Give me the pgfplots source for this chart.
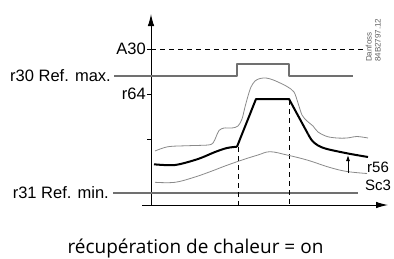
\documentclass[border=0pt]{standalone}
\usepackage{pgfplots}
\pgfplotsset{compat=1.18}
\usepackage{fontspec}
\setmainfont{Liberation Sans}
\newfontfamily\osfont{Open Sans}
\usetikzlibrary{arrows.meta}
\definecolor{refgray}{HTML}{707070}
\definecolor{thingray}{HTML}{8A8A8A}
\definecolor{txtgray}{HTML}{606060}
\begin{document}
\begin{tikzpicture}
\begin{axis}[
  width=394pt, height=258pt, scale only axis,
  xmin=0, xmax=394, ymin=0, ymax=258, y dir=reverse,
  axis lines=none, clip=false,
  every axis plot/.append style={line join=round},
]
% frame of the picture (invisible)
\path (axis cs:0,0) rectangle (axis cs:394,258);
% axes
\addplot[black, line width=1pt, -{Latex[length=12pt,width=6.5pt]}] coordinates {(151,205.5) (151,14)};
\addplot[black, line width=1pt, -{Latex[length=12pt,width=6.5pt]}] coordinates {(142,205) (388,205)};
% ticks
\addplot[black, line width=0.8pt] coordinates {(147,49) (151,49)};
\addplot[black, line width=0.8pt] coordinates {(147,94) (151,94)};
\addplot[black, line width=0.8pt] coordinates {(147,139) (151,139)};
% A30 dashed
\addplot[black, line width=0.9pt, dash pattern=on 5pt off 4pt] coordinates {(151,49) (363,49)};
% r30 ref max with step
\addplot[refgray, line width=1.4pt] coordinates {(114,76) (237,76) (237,64) (289,64) (289,76) (353,76)};
% r31 ref min
\addplot[refgray, line width=1.4pt] coordinates {(113,193) (358,193)};
% dashed verticals
\addplot[black, line width=0.9pt, dash pattern=on 5pt off 4pt] coordinates {(238,147) (238,205)};
\addplot[black, line width=0.9pt, dash pattern=on 5pt off 4pt] coordinates {(289,100) (289,205)};
% upper thin curve
\addplot[thingray, line width=0.8pt, smooth, tension=0.5] coordinates {
(155,151)(168,146.7)(188,145.7)(208,145)(213,143)(216,137)(219,130.5)(224,128)(232,128)(238,126)(242,119)(245,107)(248,96)(251,87)(255,81)(260,78.5)(266,78)(272,79.5)(278,82)(287,86.5)(294,92)(298,103)(302,115)(307,121)(313,126)(318,132)(327,136.5)(337,138)(347,138)(357,136.5)(368,138)};
% lower thin curve
\addplot[thingray, line width=0.8pt, smooth, tension=0.6] coordinates {
(155,182.3)(175,182.3)(195,177)(212,171)(225,166)(242,160)(258,155)(270,151.7)(287,155)(307,160)(330,167.5)(347,171.5)(367,173.5)};
% thick black curve
\addplot[black, line width=2pt, smooth, tension=0.5] coordinates {
(154,164.3)(175,165)(198,159)(215,152)(227,148)(237,146.7)};
\addplot[black, line width=2pt] coordinates {(237,146.7)(256,99)(289,99)(308,134)};
\addplot[black, line width=2pt, smooth, tension=0.5] coordinates {
(308,134)(312,140.5)(318,145.5)(327,149)(348,153.5)(368,157)};
% r56 arrow
\addplot[black, line width=0.9pt, -{Latex[length=6pt,width=4pt]}] coordinates {(348,173) (348,155)};
% labels
\node[anchor=east, inner sep=0pt, font=\fontsize{16.5}{18}\selectfont] at (axis cs:146,49) {A30};
\node[anchor=east, inner sep=0pt, font=\fontsize{16.5}{18}\selectfont] at (axis cs:111,76) {r30 Ref. max.};
\node[anchor=east, inner sep=0pt, font=\fontsize{16.5}{18}\selectfont] at (axis cs:146,94) {r64};
\node[anchor=east, inner sep=0pt, font=\fontsize{16.5}{18}\selectfont] at (axis cs:109,193) {r31 Ref. min.};
\node[anchor=west, inner sep=0pt, font=\fontsize{15}{16}\selectfont] at (axis cs:367,167) {r56};
\node[anchor=west, inner sep=0pt, font=\fontsize{15}{16}\selectfont] at (axis cs:365,185) {Sc3};
\node[anchor=south west, rotate=90, inner sep=0pt, align=left, text=txtgray, font=\fontsize{8}{9}\selectfont] at (axis cs:381,62) {Danfoss\\84B2797.12};
\node[anchor=base, inner sep=0pt, font=\osfont\fontsize{19}{21}\selectfont] at (axis cs:195.5,253) {récupération de chaleur = on};
\end{axis}
\end{tikzpicture}
\end{document}
